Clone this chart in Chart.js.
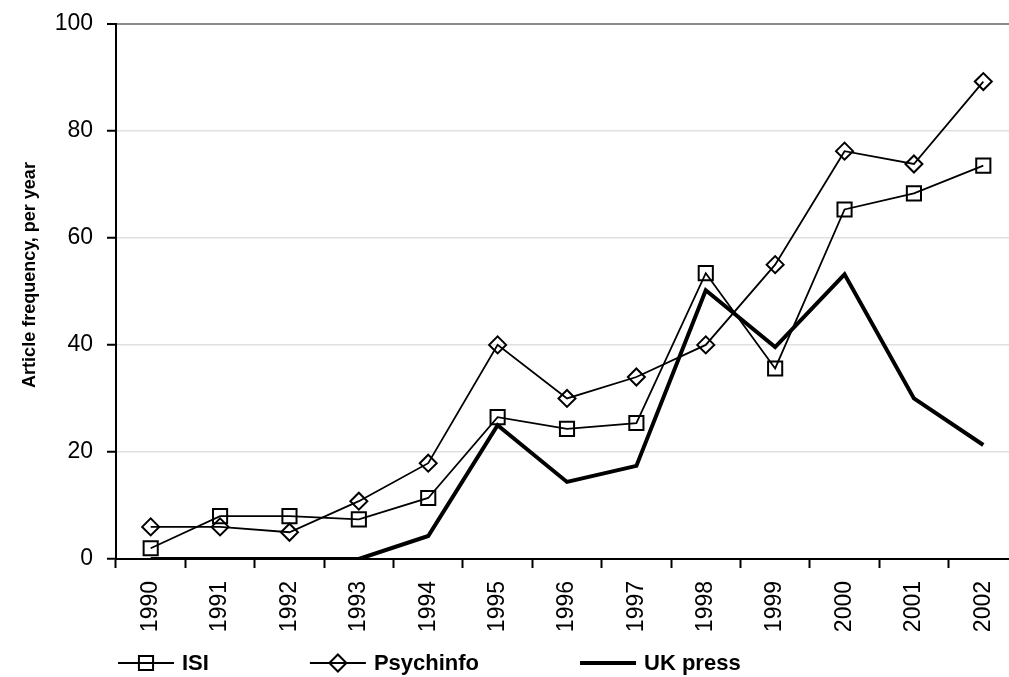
<!DOCTYPE html>
<html><head><meta charset="utf-8">
<script src="https://cdn.jsdelivr.net/npm/chart.js@4.4.1/dist/chart.umd.min.js"></script>
<style>
html,body{margin:0;padding:0;background:#fff;overflow:hidden;width:1009px;height:677px}
canvas{display:block}
</style>
</head><body>
<canvas id="c" width="1030" height="677" style="width:1030px;height:677px"></canvas>
<script>
const years = ['1990','1991','1992','1993','1994','1995','1996','1997','1998','1999','2000','2001','2002'];
const isi = [2, 8, 8, 7.4, 11.4, 26.5, 24.3, 25.4, 53.4, 35.6, 65.3, 68.3, 73.5];
const psychinfo = [6, 6, 5, 10.8, 17.9, 40, 30, 34, 40, 55, 76.2, 73.8, 89.2];
const ukPress = [0, 0, 0, 0, 4.3, 25, 14.4, 17.4, 50.2, 39.6, 53.2, 30, 21.3];
const yMin = 0, yMax = 100, yStep = 20;
const yTitle = 'Article frequency, per year';
const seriesNames = ['ISI', 'Psychinfo', 'UK press'];

const FONT = 'Arial, "Liberation Sans", Helvetica, sans-serif';

const customLegend = {
  id: 'customLegend',
  afterDraw(chart) {
    const ctx = chart.ctx;
    const y = 663;
    let x = 118;
    ctx.save();
    ctx.font = 'bold 22px ' + FONT;
    ctx.textBaseline = 'middle';
    ctx.textAlign = 'left';
    chart.data.datasets.forEach(ds => {
      const lineLen = 56;
      ctx.strokeStyle = ds.borderColor;
      ctx.lineWidth = ds.borderWidth;
      ctx.beginPath();
      ctx.moveTo(x, y);
      ctx.lineTo(x + lineLen, y);
      ctx.stroke();
      if (ds.pointRadius > 0) {
        ctx.lineWidth = ds.pointBorderWidth;
        ctx.strokeStyle = ds.pointBorderColor;
        ctx.fillStyle = 'rgba(0,0,0,0)';
        Chart.helpers.drawPoint(ctx, {
          pointStyle: ds.pointStyle, rotation: 0,
          radius: ds.pointRadius, borderWidth: ds.pointBorderWidth
        }, x + lineLen / 2, y);
      }
      const tx = x + lineLen + 8;
      ctx.fillStyle = '#000';
      ctx.fillText(ds.label, tx, y + 1);
      const w = ctx.measureText(ds.label).width;
      x = tx + w + 101;
    });
    ctx.restore();
  }
};

const yTitlePlugin = {
  id: 'yTitlePlugin',
  afterDraw(chart) {
    const ctx = chart.ctx;
    ctx.save();
    ctx.font = 'bold 18px ' + FONT;
    ctx.fillStyle = '#000';
    ctx.textAlign = 'center';
    ctx.textBaseline = 'middle';
    ctx.translate(30, 275);
    ctx.rotate(-Math.PI / 2);
    ctx.fillText(yTitle, 0, 0);
    ctx.restore();
  }
};

new Chart(document.getElementById('c'), {
  type: 'line',
  data: {
    labels: years,
    datasets: [
      {
        label: seriesNames[0], data: isi,
        borderColor: '#000', borderWidth: 1.8, tension: 0,
        pointStyle: 'rect', pointRadius: 10, pointBorderWidth: 2,
        pointBorderColor: '#000', pointBackgroundColor: 'rgba(0,0,0,0)',
        pointHoverRadius: 10
      },
      {
        label: seriesNames[1], data: psychinfo,
        borderColor: '#000', borderWidth: 1.8, tension: 0,
        pointStyle: 'rectRot', pointRadius: 8.5, pointBorderWidth: 2,
        pointBorderColor: '#000', pointBackgroundColor: 'rgba(0,0,0,0)',
        pointHoverRadius: 8.5
      },
      {
        label: seriesNames[2], data: ukPress,
        borderColor: '#000', borderWidth: 4, tension: 0,
        pointRadius: 0, pointHoverRadius: 0
      }
    ]
  },
  options: {
    responsive: false,
    animation: false,
    events: [],
    layout: { padding: { top: 21, right: 10, bottom: 30, left: 0 } },
    plugins: {
      legend: { display: false },
      tooltip: { enabled: false },
      title: { display: false }
    },
    scales: {
      x: {
        type: 'category',
        offset: true,
        grid: {
          offset: true, drawOnChartArea: false, drawTicks: true,
          tickLength: 9, tickWidth: 2, tickColor: '#000'
        },
        border: { display: true, color: '#000', width: 2 },
        ticks: {
          minRotation: 90, maxRotation: 90, autoSkip: false,
          padding: 13, color: '#000',
          font: { family: FONT, size: 23, lineHeight: 1 }
        },
        afterFit(scale) { scale.height = 88; }
      },
      y: {
        min: yMin, max: yMax,
        grid: {
          color: ctx => (ctx.tick && ctx.tick.value === yMax) ? '#8a8a8a' : '#e0e0e0',
          lineWidth: ctx => (ctx.tick && ctx.tick.value === yMax) ? 2 : 1.5,
          drawTicks: true, tickLength: 9, tickWidth: 2, tickColor: '#000'
        },
        border: { display: true, color: '#000', width: 2 },
        ticks: {
          stepSize: yStep, padding: 14, color: '#000',
          font: { family: FONT, size: 23, lineHeight: 0.85 }
        },
        afterFit(scale) { scale.width = 116; }
      }
    }
  },
  plugins: [customLegend, yTitlePlugin]
});
</script>
</body></html>
